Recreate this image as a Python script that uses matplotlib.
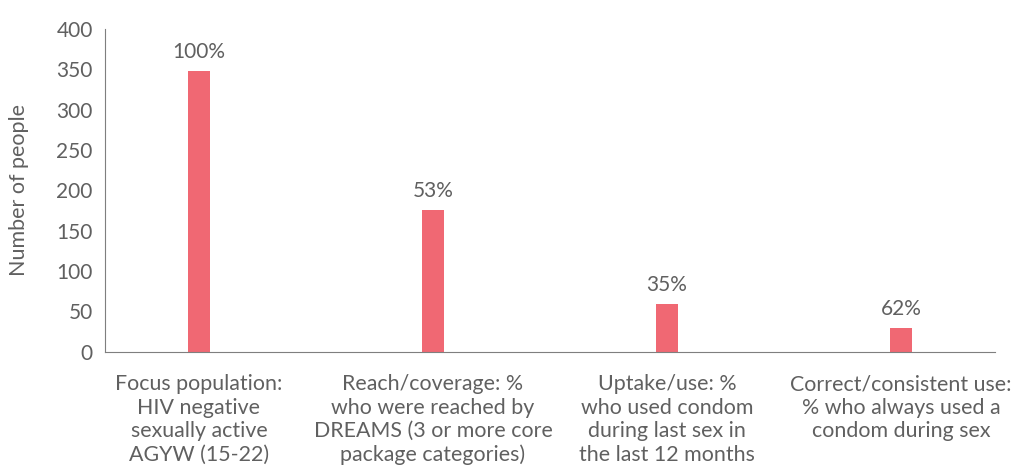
import matplotlib
matplotlib.use("Agg")
import matplotlib.pyplot as plt

categorias = ["Focus population:\nHIV negative\nsexually active\nAGYW (15-22)",
              "Reach/coverage: %\nwho were reached by\nDREAMS (3 or more core\npackage categories)",
              "Uptake/use: %\nwho used condom\nduring last sex in\nthe last 12 months",
              "Correct/consistent use:\n% who always used a\ncondom during sex"]
pessoas = [348, 176, 59, 30]
rotulos = ["100%", "53%", "35%", "62%"]

plt.rcParams['font.family'] = ['Lato', 'DejaVu Sans']
cinza = "#606060"

fig = plt.figure(figsize=(10.13, 4.66), dpi=100)
ax = fig.add_axes([0.104, 0.245, 0.878, 0.693])

x = list(range(len(categorias)))
barras = ax.bar(x, pessoas, width=0.095, color="#F06873")

for b, r in zip(barras, rotulos):
    ax.text(b.get_x() + b.get_width() / 2, b.get_height() + 11, r,
            ha="center", va="bottom", fontsize=15, color=cinza)

ax.set_xlim(-0.4, 3.4)
ax.set_ylim(0, 400)
ax.set_yticks(range(0, 401, 50))
ax.set_xticks(x)
ax.set_xticklabels(categorias, fontsize=15.4, color=cinza, linespacing=1.22)
ax.tick_params(axis="y", labelsize=15, labelcolor=cinza, length=0, pad=9)
ax.tick_params(axis="x", length=0, pad=16)
ax.set_ylabel("Number of people", fontsize=15.5, color=cinza, labelpad=20)

ax.spines["top"].set_visible(False)
ax.spines["right"].set_visible(False)
ax.spines["left"].set_color("#7f7f7f")
ax.spines["bottom"].set_color("#7f7f7f")

plt.savefig("out.png", dpi=100)
